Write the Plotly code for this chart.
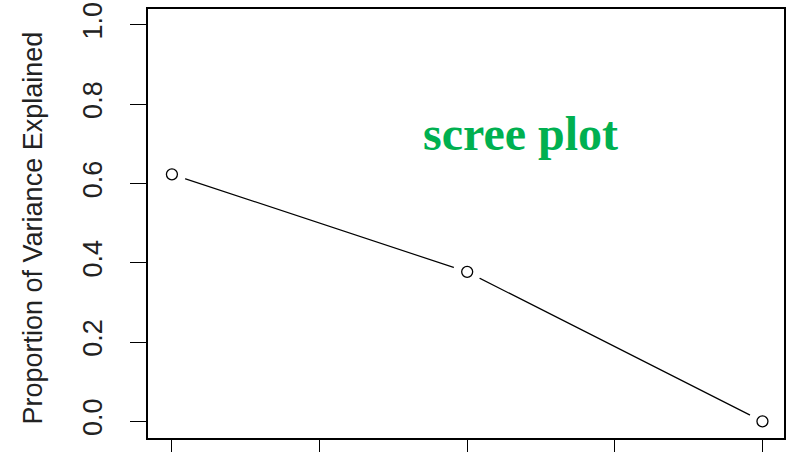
import plotly.graph_objects as go

# Principal components and the share of variance each explains
components = [1, 2, 3]
variance_explained = [0.623, 0.377, 0.0]
y_ticks = [0.0, 0.2, 0.4, 0.6, 0.8, 1.0]
y_tick_labels = ["0.0", "0.2", "0.4", "0.6", "0.8", "1.0"]
x_ticks = [1, 1.5, 2, 2.5, 3]

fig = go.Figure()

# connecting line
fig.add_trace(go.Scatter(
    x=components, y=variance_explained, mode="lines",
    line=dict(color="black", width=1.2), hoverinfo="skip", showlegend=False,
))
# white halos break the line around each point (type="b" look)
fig.add_trace(go.Scatter(
    x=components, y=variance_explained, mode="markers",
    marker=dict(size=28, color="white", line=dict(width=0)),
    hoverinfo="skip", showlegend=False,
))
# open circles
fig.add_trace(go.Scatter(
    x=components, y=variance_explained, mode="markers",
    marker=dict(size=11, color="white", symbol="circle",
                line=dict(color="black", width=1.3)),
    showlegend=False,
))

fig.add_annotation(
    x=2.18, y=0.725, xref="x", yref="y", text="<b>scree plot</b>",
    showarrow=False,
    font=dict(family="Liberation Serif, Times New Roman, serif", size=48, color="#00b050"),
)

axis_font = dict(family="Liberation Sans, Arial, sans-serif", size=27, color="#222222")

# y-axis title placed beside the rotated tick labels
fig.add_annotation(
    x=0, y=0.5, xref="paper", yref="paper", xanchor="center", yanchor="middle",
    xshift=-116, yshift=-5, textangle=-90, showarrow=False,
    text="Proportion of Variance Explained", font=axis_font,
)

fig.update_layout(
    width=788, height=452,
    margin=dict(l=148, r=4, t=9, b=14),
    plot_bgcolor="white", paper_bgcolor="white",
    xaxis=dict(
        range=[0.919, 3.073], tickvals=x_ticks, showticklabels=False,
        ticks="outside", ticklen=16, tickwidth=1.3, tickcolor="black",
        showline=True, linecolor="black", linewidth=1.5, mirror=True,
        showgrid=False, zeroline=False, automargin=False,
    ),
    yaxis=dict(
        range=[-0.042, 1.04], tickvals=y_ticks, ticktext=y_tick_labels,
        tickangle=-90, ticks="outside", ticklen=16, tickwidth=1.3, tickcolor="black",
        ticklabelstandoff=17, tickfont=axis_font,
        showline=True, linecolor="black", linewidth=1.5, mirror=True,
        showgrid=False, zeroline=False, automargin=False,
    ),
)

fig.write_html("out.html")
